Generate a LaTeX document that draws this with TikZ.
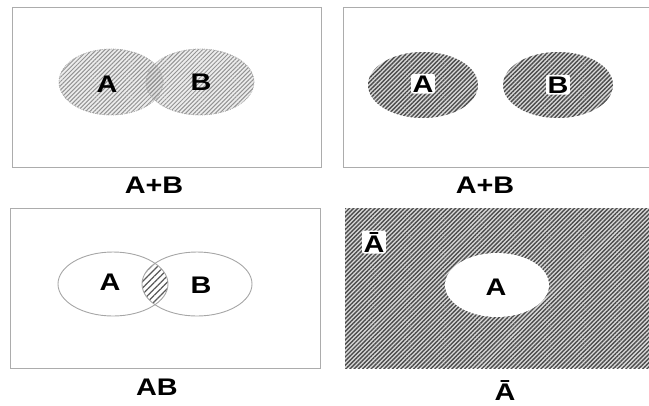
\documentclass[tikz,border=0pt]{standalone}
\usepackage{fontspec}
\newfontfamily\lblfont[FakeStretch=1.2]{Liberation Sans}
\usetikzlibrary{patterns.meta}
\tikzset{
  frame/.style={draw=gray!65, line width=1bp},
  lbl/.style={font=\lblfont\bfseries\fontsize{24bp}{26bp}\selectfont, inner sep=0pt, anchor=base},
  halo/.style={lbl, fill=white, inner sep=1.5bp, rounded corners=2bp},
  lighthatch/.style={pattern={Lines[angle=45,distance=3bp,line width=1bp]}, pattern color=gray!85},
  darkhatch/.style={pattern={Lines[angle=45,distance=3bp,line width=1.4bp]}, pattern color=black!70},
  lenshatch/.style={pattern={Lines[angle=45,distance=4.5bp,line width=1.2bp]}, pattern color=black!65},
}
\begin{document}
\begin{tikzpicture}[x=1bp,y=-1bp]
\useasboundingbox (0,0) rectangle (649,405);

% ---- union of overlapping sets ----
\draw[frame] (12,7) rectangle (321,167);
\fill[gray!14] (111,82) ellipse [x radius=52, y radius=33];
\fill[gray!14] (200,82) ellipse [x radius=54, y radius=33];
\begin{scope}
  \clip (111,82) ellipse [x radius=52, y radius=33];
  \fill[gray!24] (200,82) ellipse [x radius=54, y radius=33];
\end{scope}
\fill[lighthatch] (111,82) ellipse [x radius=52, y radius=33];
\fill[lighthatch] (200,82) ellipse [x radius=54, y radius=33];
\draw[gray!70, densely dotted, line width=0.8bp] (111,82) ellipse [x radius=52, y radius=33];
\draw[gray!70, densely dotted, line width=0.8bp] (200,82) ellipse [x radius=54, y radius=33];
\node[lbl] (ua) at (107,92) {A};
\node[lbl] (ub) at (201,90) {B};
\node[lbl] (ulabel) at (154,193) {A+B};

% ---- union of disjoint sets ----
\draw[frame] (343,7) rectangle (660,167);
\fill[gray!30] (423,85) ellipse [x radius=55, y radius=33];
\fill[gray!30] (558,85) ellipse [x radius=55, y radius=33];
\fill[darkhatch] (423,85) ellipse [x radius=55, y radius=33];
\fill[darkhatch] (558,85) ellipse [x radius=55, y radius=33];
\node[halo] (da) at (423,92) {A};
\node[halo] (db) at (558,93) {B};
\node[lbl] (dlabel) at (485,193) {A+B};

% ---- intersection ----
\draw[frame] (10,208) rectangle (320,368);
\begin{scope}
  \clip (113,284) ellipse [x radius=55, y radius=32];
  \fill[lenshatch] (197,284) ellipse [x radius=55, y radius=32];
\end{scope}
\draw[gray!70, line width=0.9bp] (113,284) ellipse [x radius=55, y radius=32];
\draw[gray!70, line width=0.9bp] (197,284) ellipse [x radius=55, y radius=32];
\node[lbl] (ia) at (110,290) {A};
\node[lbl] (ib) at (201,293) {B};
\node[lbl] (ilabel) at (157,395) {AB};

% ---- complement ----
\fill[gray!30] (345,208) rectangle (660,368);
\fill[darkhatch] (345,208) rectangle (660,368);
\fill[white] (497,285) ellipse [x radius=52, y radius=32];
\node[lbl] (ca) at (496,295) {A};
\node[halo] (cbar) at (374,252) {Ā};
\node[lbl] (clabel) at (505,400) {Ā};
\end{tikzpicture}
\end{document}
